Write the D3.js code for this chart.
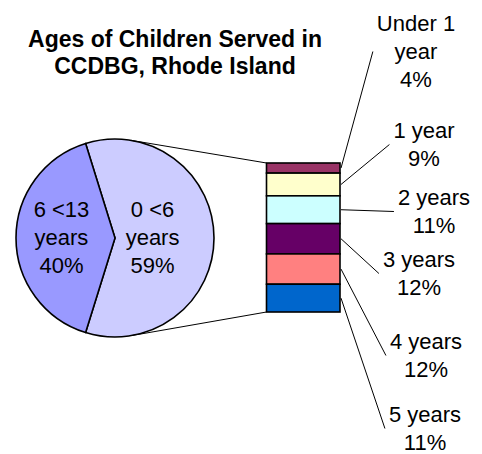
<!DOCTYPE html>
<head>
  <meta charset="utf-8">
  <script src="https://cdn.jsdelivr.net/npm/d3@7"></script>
  <style>
    body { margin: 0; background: #fff; }
    text { font-family: "Liberation Sans", Arial, sans-serif; fill: #000; }
    text.title { font-size: 23px; font-weight: 700; }
    text.label { font-size: 22px; }
    path.slice, rect.seg { stroke: #000; stroke-width: 1.6px; }
    line.leader, line.connector { stroke: #000; stroke-width: 1px; }
  </style>
</head>

<body>
  <svg width="482" height="454"></svg>
  <script>
    // data
    const pieCats = ["0 <6 years", "6 <13 years"];
    const pieValues = [59, 40];
    const pieColors = ["#ccccff", "#9999ff"];

    const barCats = ["Under 1 year", "1 year", "2 years", "3 years", "4 years", "5 years"];
    const barValues = [4, 9, 11, 12, 12, 11];
    const barColors = ["#993366", "#ffffcc", "#ccffff", "#660066", "#ff8080", "#0066cc"];

    const titleLines = ["Ages of Children Served in", "CCDBG, Rhode Island"];

    // layout
    const svg = d3.select("svg");
    const cx = 115, cy = 238, r = 99;
    const bar = { x0: 266.5, x1: 340, y0: 163, y1: 312 };
    const lineH = 28;
    // label anchors for bar segments (centre x, first baseline)
    const labelSpots = [[416, 31], [424, 138], [434, 205], [419, 267], [426, 349], [425, 422]];

    // long names wrap at the last space, like the original
    const wrap = s => s.length > 8 ? [s.slice(0, s.lastIndexOf(" ")), s.slice(s.lastIndexOf(" ") + 1)] : [s];

    // title
    svg.append("text")
      .attr("class", "title")
      .attr("x", 175)
      .attr("y", 47)
      .style("text-anchor", "middle")
      .selectAll("tspan")
      .data(titleLines)
      .enter()
      .append("tspan")
      .attr("x", 175)
      .attr("dy", (d, i) => i ? 27 : 0)
      .text(d => d);

    // pie, first slice centred on the right side
    const total = d3.sum(pieValues);
    const span = 2 * Math.PI * pieValues[0] / total;
    const start = Math.PI / 2 - span / 2;
    const pie = d3.pie().sort(null).startAngle(start).endAngle(start + 2 * Math.PI);
    const arcs = pie(pieValues);
    const arc = d3.arc().innerRadius(0).outerRadius(r);
    const labelArc = d3.arc().innerRadius(r * 0.46).outerRadius(r * 0.46);

    const pg = svg.append("g").attr("transform", `translate(${cx},${cy})`);
    pg.selectAll("path.slice")
      .data(arcs)
      .enter()
      .append("path")
      .attr("class", "slice")
      .attr("d", arc)
      .style("fill", (d, i) => pieColors[i]);

    pg.selectAll("text.pieLabel")
      .data(arcs)
      .enter()
      .append("text")
      .attr("class", "label pieLabel")
      .style("text-anchor", "middle")
      .each(function (d, i) {
        const [lx, ly] = labelArc.centroid(d);
        const lines = wrap(pieCats[i]).concat([Math.round(pieValues[i]) + "%"]);
        d3.select(this).selectAll("tspan")
          .data(lines)
          .enter()
          .append("tspan")
          .attr("x", lx - 8)
          .attr("y", (t, j) => ly - lineH + 7 + j * lineH)
          .text(t => t);
      });

    // stacked bar
    const y = d3.scaleLinear()
      .domain([0, d3.sum(barValues)])
      .range([bar.y0, bar.y1]);
    const cum = d3.cumsum([0].concat(barValues));

    // connector lines: tangents from bar corners to the pie
    const tangent = (px, py, side) => {
      const dx = px - cx, dy = py - cy;
      const a = Math.atan2(dy, dx) + side * Math.acos(r / Math.hypot(dx, dy));
      return [cx + r * Math.cos(a), cy + r * Math.sin(a)];
    };
    [[bar.x0, y(0), -1], [bar.x0, y(d3.sum(barValues)), 1]].forEach(([px, py, s]) => {
      const [tx, ty] = tangent(px, py, s);
      svg.append("line")
        .attr("class", "connector")
        .attr("x1", tx).attr("y1", ty)
        .attr("x2", px).attr("y2", py);
    });

    svg.selectAll("rect.seg")
      .data(barValues)
      .enter()
      .append("rect")
      .attr("class", "seg")
      .attr("x", bar.x0)
      .attr("width", bar.x1 - bar.x0)
      .attr("y", (d, i) => y(cum[i]))
      .attr("height", (d, i) => y(cum[i + 1]) - y(cum[i]))
      .style("fill", (d, i) => barColors[i]);

    // bar labels with leader lines
    barValues.forEach((v, i) => {
      const [lx, ly] = labelSpots[i];
      const lines = wrap(barCats[i]).concat([v + "%"]);
      const t = svg.append("text")
        .attr("class", "label barLabel")
        .style("text-anchor", "middle");
      t.selectAll("tspan")
        .data(lines)
        .enter()
        .append("tspan")
        .attr("x", lx)
        .attr("y", (s, j) => ly + j * lineH)
        .text(s => s);
      const bb = t.node().getBBox();
      svg.append("line")
        .attr("class", "leader")
        .attr("x1", bar.x1 + 1)
        .attr("y1", (y(cum[i]) + y(cum[i + 1])) / 2)
        .attr("x2", bb.x - 4)
        .attr("y2", bb.y + bb.height / 2);
    });
  </script>
</body>
